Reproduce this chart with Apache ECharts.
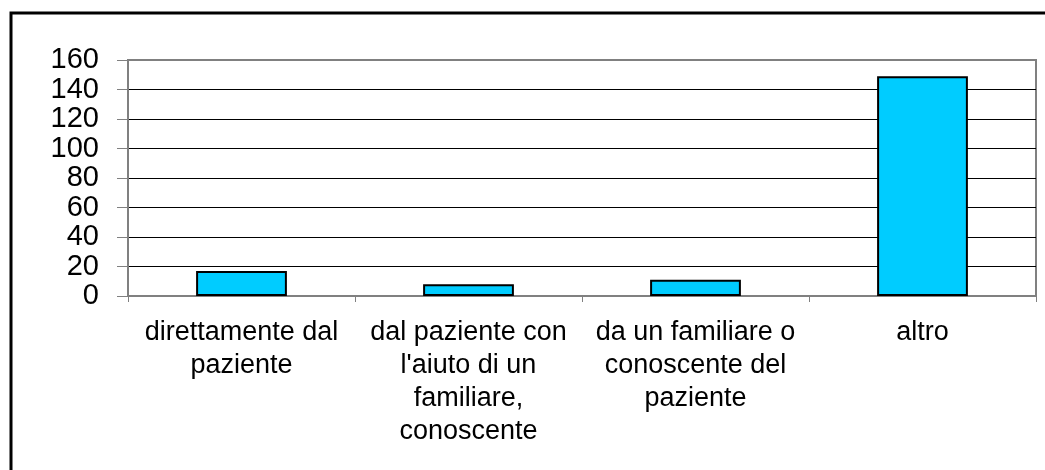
<!DOCTYPE html>
<html>
<head>
<meta charset="utf-8">
<script src="https://cdn.jsdelivr.net/npm/echarts@6/dist/echarts.min.js"></script>
<style>
  html, body { margin: 0; padding: 0; background: #fff; }
  #chart { width: 1045px; height: 470px; }
</style>
</head>
<body>
<div id="chart"></div>
<script>
// dati
var categories = [
    "direttamente dal\npaziente",
    "dal paziente con\nl'aiuto di un\nfamiliare,\nconoscente",
    "da un familiare o\nconoscente del\npaziente",
    "altro"
];
var values = [17, 8, 11, 149];

var FONT = "'Liberation Sans', Arial, sans-serif";
var GRAY = "#808080";

var chart = echarts.init(document.getElementById("chart"));
chart.setOption({
    animation: false,
    backgroundColor: "#fff",
    graphic: [{
        type: "rect", silent: true,
        shape: { x: 11, y: 13, width: 1200, height: 1000 },
        style: { fill: null, stroke: "#000", lineWidth: 3 },
    }],
    grid: {
        left: 128, right: 9, top: 60, bottom: 174,
        show: true, borderColor: GRAY, borderWidth: 2, backgroundColor: "transparent",
    },
    xAxis: {
        type: "category", data: categories,
        axisLine: { lineStyle: { color: GRAY, width: 2 } },
        axisTick: { show: true, length: 6, lineStyle: { color: GRAY, width: 1 } },
        axisLabel: {
            interval: 0, margin: 20, color: "#000",
            fontFamily: FONT, fontSize: 27, lineHeight: 33, align: "center",
        },
    },
    yAxis: {
        type: "value", min: 0, max: 160, interval: 20,
        axisLine: { show: true, lineStyle: { color: GRAY, width: 2 } },
        axisTick: { show: true, length: 11, lineStyle: { color: GRAY, width: 1 } },
        axisLabel: { margin: 29, color: "#000", fontFamily: FONT, fontSize: 29, lineHeight: 29,
            showMinLabel: true, showMaxLabel: true },
        splitLine: { show: true, showMinLine: false, showMaxLine: false,
            lineStyle: { color: "#000", width: 1 } },
    },
    series: [{
        type: "bar", data: values, barWidth: "40%",
        itemStyle: { color: "#00CCFF", borderColor: "#000", borderWidth: 2 },
    }],
});
</script>
</body>
</html>
